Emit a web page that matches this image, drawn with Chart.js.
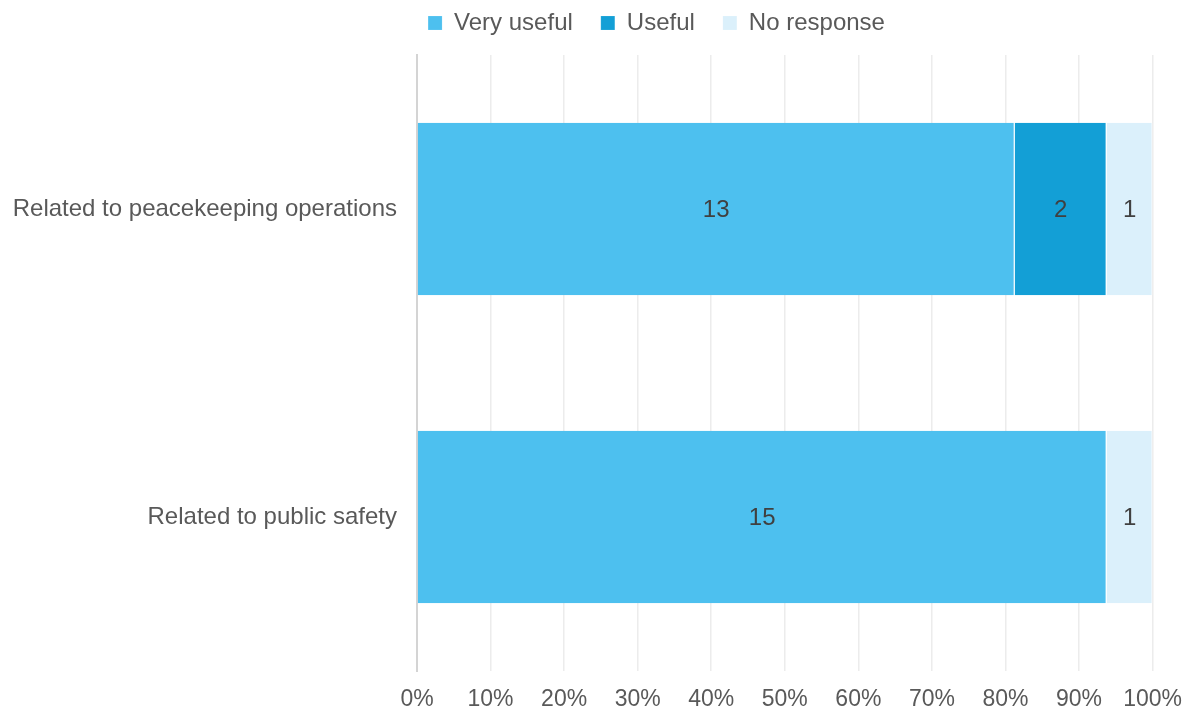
<!DOCTYPE html>
<html>
<head>
<meta charset="utf-8">
<script src="https://cdn.jsdelivr.net/npm/chart.js@4"></script>
<style>
  html, body { margin: 0; padding: 0; background: #fff; }
  #wrap { width: 1197px; height: 714px; }
</style>
</head>
<body>
<div id="wrap"><canvas id="chart"></canvas></div>
<script>
// data
const categories = ["Related to peacekeeping operations", "Related to public safety"];
const veryUseful = [13, 15];
const useful = [2, 0];
const noResponse = [1, 1];
const tickLabels = ["0%","10%","20%","30%","40%","50%","60%","70%","80%","90%","100%"];

const totals = categories.map((c, i) => veryUseful[i] + useful[i] + noResponse[i]);
const pct = arr => arr.map((v, i) => v / totals[i] * 100);

const FONT = "'Liberation Sans', Arial, sans-serif";

// count labels in the middle of each segment
const countLabels = {
  id: "countLabels",
  afterDatasetsDraw(chart) {
    const ctx = chart.ctx;
    ctx.save();
    ctx.font = "24px " + FONT;
    ctx.fillStyle = "#404040";
    ctx.textAlign = "center";
    ctx.textBaseline = "middle";
    chart.data.datasets.forEach((ds, di) => {
      chart.getDatasetMeta(di).data.forEach((bar, i) => {
        const v = ds.counts[i];
        if (!v) return;
        ctx.fillText(String(v), (bar.x + bar.base) / 2, bar.y + 1);
      });
    });
    ctx.restore();
  }
};

// legend: fixed height, drawn a bit higher and further right
const legendGap = {
  id: "legendGap",
  beforeInit(chart) {
    const fit = chart.legend.fit;
    chart.legend.fit = function () {
      fit.call(this);
      this.height = 55;
    };
  },
  afterLayout(chart) {
    chart.legend.top = -17;
    chart.legend.left += 80;
    chart.legend.right += 80;
  }
};

Chart.defaults.font.family = FONT;
Chart.defaults.color = "#595959";

new Chart(document.getElementById("chart"), {
  type: "bar",
  data: {
    labels: categories,
    datasets: [
      { label: "Very useful", data: pct(veryUseful), counts: veryUseful, backgroundColor: "#4dc0ef" },
      { label: "Useful", data: pct(useful), counts: useful, backgroundColor: "#139fd6" },
      { label: "No response", data: pct(noResponse), counts: noResponse, backgroundColor: "#dbf0fb" }
    ]
  },
  options: {
    indexAxis: "y",
    responsive: true,
    maintainAspectRatio: false,
    animation: false,
    datasets: {
      bar: {
        categoryPercentage: 1,
        barPercentage: 0.56,
        borderColor: "rgba(255,255,255,0.5)",
        borderWidth: { right: 1 },
        borderSkipped: false
      }
    },
    layout: { padding: { left: 0, right: 44, top: 0, bottom: 0 } },
    plugins: {
      legend: {
        position: "top",
        labels: {
          boxWidth: 14,
          boxHeight: 14,
          padding: 28,
          color: "#595959",
          font: { size: 24 }
        }
      },
      tooltip: { enabled: false }
    },
    scales: {
      x: {
        stacked: true,
        min: 0,
        max: 100,
        afterFit: s => { s.height = 43; },
        ticks: {
          stepSize: 10,
          padding: 15,
          maxRotation: 0,
          color: "#595959",
          font: { size: 23 },
          callback: (v, i) => tickLabels[i]
        },
        grid: { color: "#ececec", lineWidth: 1.5, drawTicks: false },
        border: { display: false }
      },
      y: {
        stacked: true,
        afterFit: s => { s.width = 417; },
        ticks: { padding: 20, color: "#595959", font: { size: 24 } },
        grid: { display: false, drawTicks: false },
        border: { display: true, color: "#d4d4d4", width: 2 }
      }
    }
  },
  plugins: [countLabels, legendGap]
});
</script>
</body>
</html>
